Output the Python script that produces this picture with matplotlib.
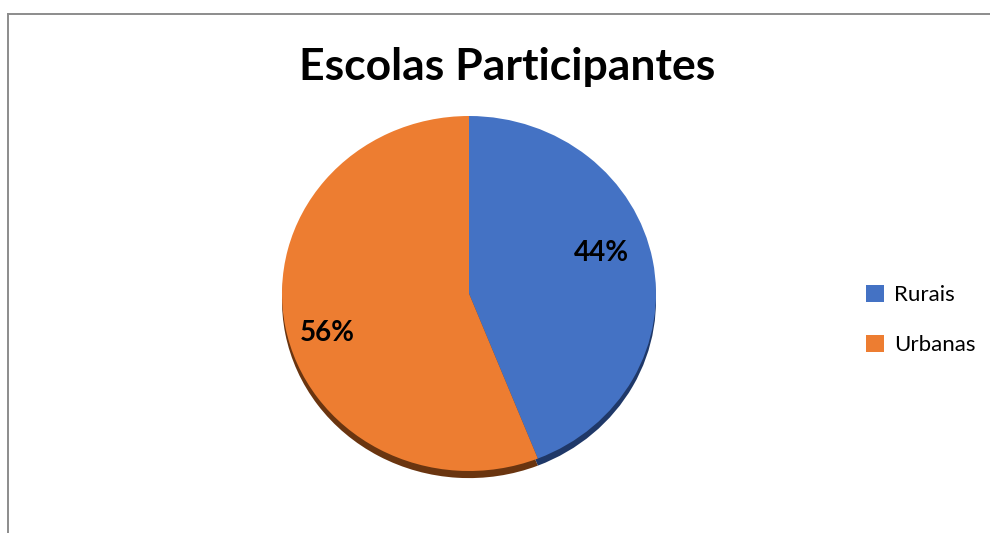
import matplotlib.pyplot as plt
from matplotlib.lines import Line2D

labels = ['Rurais', 'Urbanas']
values = [44, 56]
colors = ['#4472C4', '#ED7D31']
shadow_colors = ['#1F3868', '#6A3510']

plt.rcParams['font.family'] = ['Lato', 'DejaVu Sans']

fig = plt.figure(figsize=(9.9, 5.33), dpi=100)

# frame lines (top and left only visible in the crop)
fig.add_artist(Line2D([8/990, 1], [1 - 14/533] * 2, color='#8c8c8c', lw=1.4))
fig.add_artist(Line2D([8/990] * 2, [0, 1 - 14/533], color='#8c8c8c', lw=1.4))

ax = fig.add_axes([282/990, 62/533, 374/990, 355/533])

# shadow layer below the pie
ax.pie(values, colors=shadow_colors, startangle=90, counterclock=False,
       center=(0, -0.04), radius=1, frame=False,
       wedgeprops=dict(linewidth=0, clip_on=False))

wedges, texts, autotexts = ax.pie(
    values, colors=colors, startangle=90, counterclock=False,
    autopct='%1.0f%%', pctdistance=0.76, radius=1, frame=False,
    wedgeprops=dict(linewidth=0, clip_on=False),
    textprops=dict(fontsize=20, fontweight='bold', color='black'))
ax.set_xlim(-1, 1)
ax.set_ylim(-1, 1)
ax.set_aspect('auto')
ax.axis('off')

# label placement as in the original
autotexts[0].set_position((0.71, 0.23))
autotexts[1].set_position((-0.76, -0.22))

fig.text(507/990, 1 - 67/533, 'Escolas Participantes', ha='center', va='center',
         fontsize=32, fontweight='bold')

fig.legend(wedges, labels, loc='center left', bbox_to_anchor=(846/990, 1 - 320/533),
           frameon=False, fontsize=16, handlelength=0.8, handleheight=0.8,
           labelspacing=1.35, handletextpad=0.45)

fig.savefig('out.png', dpi=100)
